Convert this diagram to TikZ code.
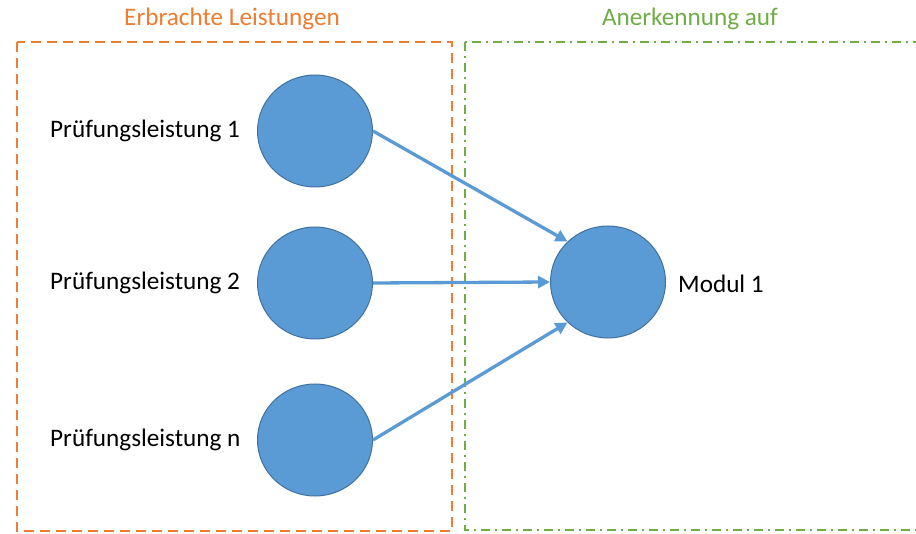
\documentclass[tikz,border=0pt]{standalone}
\usepackage{fontspec}
\setmainfont{Carlito}
\usetikzlibrary{shapes.geometric,arrows.meta}
\definecolor{obox}{HTML}{ED7D31}
\definecolor{gbox}{HTML}{70AD47}
\definecolor{cfill}{HTML}{5B9BD5}
\definecolor{cline}{HTML}{41719C}
\tikzset{
  blob/.style={ellipse, fill=cfill, draw=cline, line width=1pt, minimum width=115pt, minimum height=112pt, inner sep=0pt},
  lbl/.style={font=\fontsize{25.2}{29}\selectfont, inner sep=0pt, text=black},
  ttl/.style={font=\fontsize{25.2}{29}\selectfont, inner sep=0pt},
  conn/.style={draw=cfill, line width=3.3pt, -{Triangle[length=12pt,width=12pt]}},
}
\begin{document}
\begin{tikzpicture}[x=1pt,y=-1pt]
\useasboundingbox (0,0) rectangle (916,534);
\clip (0,0) rectangle (916,534);
\fill[white] (0,0) rectangle (916,534);
% boxes
\draw[obox, line width=2pt, dash pattern=on 10pt off 6pt] (17,42) rectangle (452,531);
\draw[gbox, line width=2pt, dash pattern=on 9pt off 5pt on 2pt off 5pt] (465,42) rectangle (930,530);
% titles
\node[ttl, text=obox] (t1) at (232,19) {Erbrachte Leistungen};
\node[ttl, text=gbox] (t2) at (690,19) {Anerkennung auf};
% circles
\node[blob] (c1) at (315,131) {};
\node[blob] (c2) at (315,283) {};
\node[blob] (c3) at (315,440) {};
\node[blob] (m) at (608,282) {};
% labels
\node[lbl, anchor=west] (l1) at (50,131) {Prüfungsleistung 1};
\node[lbl, anchor=west] (l2) at (50,283) {Prüfungsleistung 2};
\node[lbl, anchor=west] (l3) at (50,440) {Prüfungsleistung n};
\node[lbl, anchor=west] (lm) at (678,284) {Modul 1};
% arrows
\draw[conn] (c1.east) -- (m.135);
\draw[conn] (c2.east) -- (m.west);
\draw[conn] (c3.east) -- (m.225);
\end{tikzpicture}
\end{document}
